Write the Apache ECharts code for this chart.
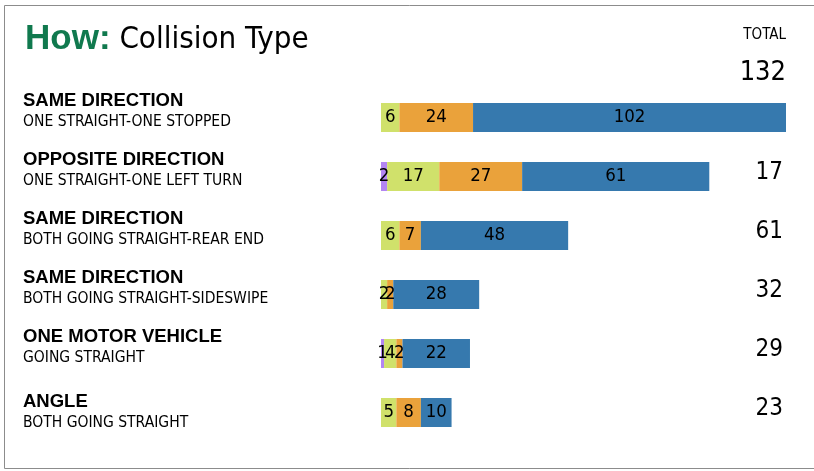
<!DOCTYPE html>
<html>
<head>
<meta charset="utf-8">
<title>How: Collision Type</title>
<script src="https://cdn.jsdelivr.net/npm/echarts@6/dist/echarts.min.js"></script>
<style>
    html, body { margin: 0; padding: 0; background: #fff; }
    #chart-container { width: 814px; height: 471px; }
</style>
</head>
<body>
<div id="chart-container"></div>
<script>
(function(window, echarts){
    'use strict';

    // rows, top to bottom
    var groups = ['SAME DIRECTION', 'OPPOSITE DIRECTION', 'SAME DIRECTION',
        'SAME DIRECTION', 'ONE MOTOR VEHICLE', 'ANGLE'];
    var details = ['ONE STRAIGHT-ONE STOPPED', 'ONE STRAIGHT-ONE LEFT TURN',
        'BOTH GOING STRAIGHT-REAR END', 'BOTH GOING STRAIGHT-SIDESWIPE',
        'GOING STRAIGHT', 'BOTH GOING STRAIGHT'];

    // segments, left to right
    var purple = [0, 2, 0, 0, 1, 0];
    var green  = [6, 17, 6, 2, 4, 5];
    var orange = [24, 27, 7, 2, 2, 8];
    var blue   = [102, 61, 48, 28, 22, 10];

    // totals as printed on the right
    var totals = [132, 17, 61, 32, 29, 23];

    var NARROW = '"Liberation Sans Narrow", "DejaVu Sans Condensed", sans-serif';
    var SANS = '"Liberation Sans", Arial, sans-serif';

    var chart = echarts.init(document.getElementById('chart-container'));

    var segment = function(name, color, values) {
        return {
            name: name,
            type: 'bar',
            stack: 'all',
            barWidth: 29,
            data: values,
            itemStyle: {color: color},
            label: {
                show: true,
                position: 'inside',
                color: '#000',
                fontFamily: NARROW,
                fontSize: 18.5,
                formatter: function(p) { return p.value > 0 ? String(p.value) : ''; }
            }
        };
    };

    var rows = groups.map(function(g, i) { return i; });

    chart.setOption({
        animation: false,
        title: [
            {
                text: '{g|How:}{k| Collision Type}',
                left: 20,
                top: 17,
                textStyle: {
                    rich: {
                        g: {color: '#10794e', fontFamily: SANS, fontWeight: 'bold', fontSize: 35},
                        k: {color: '#000', fontFamily: NARROW, fontWeight: 'normal', fontSize: 31}
                    }
                }
            },
            {
                text: 'TOTAL',
                right: 28,
                top: 28,
                padding: 0,
                textStyle: {color: '#000', fontFamily: NARROW, fontSize: 15, fontWeight: 'normal'}
            },
            {
                text: String(totals[0]),
                right: 28,
                top: 59,
                padding: 0,
                textStyle: {color: '#000', fontFamily: NARROW, fontSize: 27, fontWeight: 'normal'}
            }
        ],
        graphic: [{
            type: 'rect',
            shape: {x: 4.5, y: 5.5, width: 840, height: 463},
            style: {fill: 'none', stroke: '#8c8c8c', lineWidth: 1}
        }],
        grid: {left: 381, right: 28, top: 88, bottom: 29, containLabel: false},
        xAxis: {type: 'value', min: 0, max: 132, show: false},
        yAxis: [
            {
                type: 'category',
                inverse: true,
                data: rows,
                axisLine: {show: false},
                axisTick: {show: false},
                axisLabel: {
                    align: 'left',
                    margin: 358,
                    formatter: function(v) {
                        var i = +v;
                        var s = '{a|' + groups[i] + '}\n{b|' + details[i] + '}';
                        if (i < rows.length - 1) s += '\n{c|}';
                        return s;
                    },
                    rich: {
                        a: {fontFamily: SANS, fontWeight: 'bold', fontSize: 18.5, lineHeight: 21, color: '#000'},
                        b: {fontFamily: NARROW, fontSize: 15.5, lineHeight: 22, color: '#000'},
                        c: {lineHeight: 12}
                    }
                }
            },
            {
                type: 'category',
                inverse: true,
                position: 'right',
                data: rows,
                axisLine: {show: false},
                axisTick: {show: false},
                axisLabel: {
                    align: 'right',
                    margin: -3,
                    formatter: function(v) {
                        var i = +v;
                        return i === 0 ? '' : '{t|' + totals[i] + '}\n{s|}';
                    },
                    rich: {
                        t: {color: '#000', fontFamily: NARROW, fontSize: 24, lineHeight: 28},
                        s: {lineHeight: 8}
                    }
                }
            }
        ],
        series: [
            segment('purple', '#b386f2', purple),
            segment('green', '#d0e16b', green),
            segment('orange', '#eaa23b', orange),
            segment('blue', '#3679ae', blue)
        ]
    });

})(window, window.echarts);
</script>
</body>
</html>
